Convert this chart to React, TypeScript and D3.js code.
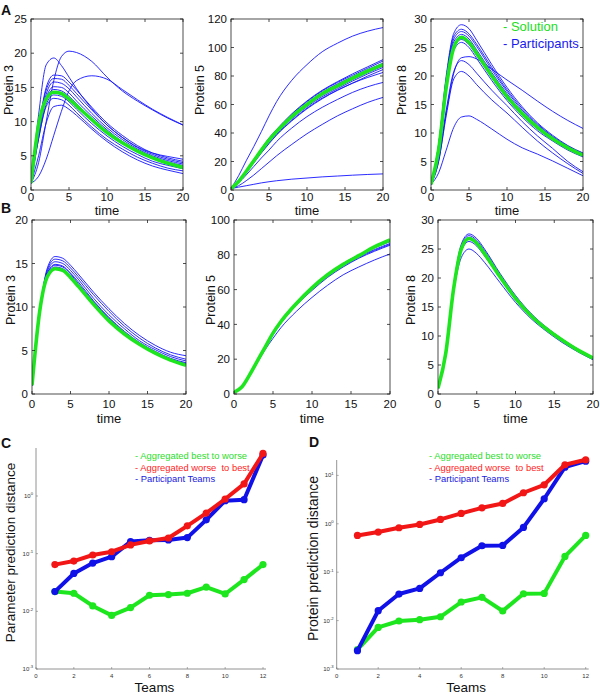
import React from "react";
import * as d3 from "d3";

// ---------- data ----------
const TIME = [0, 1, 2, 3, 4, 5, 6, 8, 10, 12, 14, 16, 18, 20];
const TIME_TICKS = [0, 5, 10, 15, 20];

// Panel A (participants' parameter-based simulations)
const A_P3_SOLUTION = [1, 9.5, 13.3, 14.3, 14.1, 13.3, 12.3, 10.3, 8.4, 6.9, 5.7, 4.7, 3.9, 3.3];
const A_P3_PARTICIPANTS = [
  [1, 11, 18.3, 19.3, 18.2, 16.5, 14.8, 11.9, 9.5, 7.7, 6.3, 5.4, 4.9, 4.5],
  [1, 4, 10, 16, 19.5, 20.3, 20.1, 18.8, 16.5, 14.5, 13.0, 11.7, 10.5, 9.5],
  [1, 2, 4.5, 8, 11.5, 14.5, 16, 16.7, 16.2, 14.7, 13.2, 11.8, 10.6, 9.5],
  [1, 9, 15, 16.8, 16.7, 15.8, 14.6, 12.1, 9.8, 8.0, 6.5, 5.4, 4.7, 4.2],
  [1, 9, 14.6, 16.3, 16.2, 15.3, 14.1, 11.7, 9.5, 7.7, 6.2, 5.2, 4.5, 4.0],
  [1, 8.5, 14, 15.8, 15.6, 14.8, 13.6, 11.2, 9.1, 7.4, 6.0, 5.0, 4.3, 3.8],
  [1, 8.5, 13.5, 15.1, 15.0, 14.2, 13.0, 10.8, 8.8, 7.1, 5.8, 4.8, 4.1, 3.6],
  [1, 8, 13.2, 14.7, 14.5, 13.7, 12.6, 10.4, 8.5, 6.9, 5.6, 4.6, 3.9, 3.4],
  [1, 7.5, 12.5, 13.9, 13.7, 12.9, 11.8, 9.7, 7.9, 6.4, 5.2, 4.2, 3.6, 3.1],
  [1, 7.5, 12.2, 13.4, 13.2, 12.4, 11.3, 9.2, 7.4, 6.0, 4.8, 3.9, 3.2, 2.8],
  [1, 5, 9.8, 12.2, 12.4, 11.8, 10.9, 8.9, 7.1, 5.6, 4.4, 3.5, 2.9, 2.4],
];

const A_P5_SOLUTION = [1, 6, 13, 20.5, 28, 35, 41, 51.5, 60, 67.5, 73, 78.5, 83.5, 88];
const A_P5_PARTICIPANTS = [
  [1, 10, 20.5, 30.5, 41, 52, 62, 77, 88, 97, 103, 108, 111.5, 114],
  [1, 6.5, 13.5, 21.5, 29, 36.5, 42.5, 53.5, 62.5, 70, 76, 81.5, 86.5, 91.5],
  [1, 6, 13.5, 21, 28.5, 36, 42, 53, 62, 69.5, 75.5, 80.5, 85.5, 90.5],
  [1, 6, 13, 20.5, 28, 35.5, 41.5, 52, 61, 68.5, 74.5, 79.5, 84.5, 89],
  [1, 6, 13, 20.5, 28, 35, 41, 51, 59.5, 66.5, 72, 77.5, 82.5, 87],
  [1, 5.5, 12.5, 20, 27, 34, 40, 50, 58.5, 65.5, 71, 76.5, 81.5, 86],
  [1, 5.5, 12.5, 19.5, 26.5, 33, 39, 49, 57.5, 64.5, 70, 75, 80, 84.5],
  [1, 5.5, 12, 19, 26, 32.5, 38.5, 48.5, 57, 64, 70, 75, 79, 82.5],
  [1, 5, 10.5, 16.5, 22.5, 28, 34, 43.5, 51.5, 58, 63.5, 68.5, 72.5, 75.5],
  [1, 3, 6.5, 10.5, 15, 19.5, 24, 32, 39.5, 46, 52, 57, 61.5, 65],
  [1, 2, 3, 4, 5, 5.8, 6.5, 7.6, 8.4, 9.2, 9.8, 10.4, 10.9, 11.3],
];

const A_P8_SOLUTION = [1, 7, 18, 25, 26.8, 25.9, 24, 20, 16.4, 13.4, 11, 9, 7.4, 6.1];
const A_P8_PARTICIPANTS = [
  [1, 8, 20, 27.5, 29, 28.3, 26.3, 22, 18, 14.6, 11.8, 9.6, 7.8, 6.5],
  [1, 8, 19.5, 27, 28.2, 27.4, 25.6, 21.5, 17.6, 14.3, 11.6, 9.4, 7.7, 6.4],
  [1, 7.5, 19, 26.5, 27.8, 27, 25.2, 21.1, 17.3, 14, 11.4, 9.3, 7.6, 6.3],
  [1, 7.5, 19, 26, 27.3, 26.5, 24.6, 20.6, 16.9, 13.7, 11.2, 9.1, 7.4, 6.2],
  [1, 7, 18.5, 25, 26.4, 25.5, 23.6, 19.7, 16.1, 13.1, 10.7, 8.8, 7.2, 5.9],
  [1, 7, 18, 24.5, 25.9, 25, 23.1, 19.2, 15.7, 12.8, 10.4, 8.6, 7.0, 5.8],
  [1, 5, 13.5, 20.5, 23.2, 23.4, 23, 21.2, 19.3, 17.5, 15.6, 13.8, 12.2, 10.8],
  [1, 5.5, 14, 20.8, 22.7, 22, 20.5, 17.5, 14.8, 12.0, 9.5, 7.3, 5.0, 3.2],
  [1, 5, 13, 19.5, 20.8, 20, 18.5, 15.8, 13.5, 11, 8.6, 6.5, 4.6, 2.9],
  [1, 3, 7, 11, 12.8, 13, 12.4, 10.7, 8.9, 7.4, 6.3, 5.1, 3.8, 2.5],
];

// Panel B (aggregated predictions)
const B_P3_SOLUTION = [1, 9.5, 13.5, 14.4, 14.2, 13.4, 12.4, 10.3, 8.4, 6.9, 5.7, 4.7, 3.9, 3.3];
const B_P3_PARTICIPANTS = [
  [1, 9.5, 14.5, 15.8, 15.6, 14.8, 13.8, 11.7, 9.8, 8.1, 6.7, 5.6, 4.8, 4.4],
  [1, 9.5, 14.3, 15.5, 15.3, 14.5, 13.5, 11.4, 9.5, 7.8, 6.4, 5.3, 4.5, 4.0],
  [1, 9.5, 14.1, 15.2, 15.0, 14.2, 13.2, 11.0, 9.1, 7.5, 6.1, 5.1, 4.3, 3.8],
  [1, 9.5, 13.9, 14.9, 14.7, 13.9, 12.9, 10.7, 8.8, 7.2, 5.9, 4.9, 4.1, 3.6],
  [1, 9.5, 13.8, 14.8, 14.6, 13.8, 12.7, 10.6, 8.7, 7.1, 5.8, 4.8, 4.0, 3.5],
  [1, 9.5, 13.7, 14.6, 14.4, 13.6, 12.6, 10.5, 8.6, 7.0, 5.8, 4.8, 4.0, 3.4],
  [1, 9.5, 13.6, 14.5, 14.3, 13.5, 12.5, 10.4, 8.5, 7.0, 5.7, 4.7, 3.9, 3.4],
];

const B_P5_SOLUTION = [1, 4, 11, 19, 27, 35, 41.5, 52, 61, 68.5, 74.5, 79.5, 84.5, 88.5];
const B_P5_PARTICIPANTS = [
  [1, 4, 11, 19, 27, 35, 42, 52.5, 61.5, 69, 75, 80, 84, 87.5],
  [1, 4, 11, 19, 27, 35, 41.5, 52, 61, 68, 74, 79, 83, 86.5],
  [1, 4, 11, 19, 27, 34.5, 41, 51.5, 60, 67.5, 73.5, 78.5, 82.5, 86],
  [1, 4, 11, 19, 26.5, 34, 40.5, 51, 59.5, 67, 73, 78, 82, 85.5],
  [1, 4, 10.5, 18, 25.5, 32, 38, 47.5, 55.5, 62.5, 68.5, 73, 77, 80.5],
];

const B_P8_SOLUTION = [1, 7, 18, 25, 26.8, 26, 24.2, 20.2, 16.5, 13.5, 11.2, 9.3, 7.6, 6.2];
const B_P8_PARTICIPANTS = [
  [1, 7, 18.5, 25.8, 27.6, 26.8, 25, 20.8, 17, 13.9, 11.5, 9.5, 7.8, 6.3],
  [1, 7, 18.3, 25.5, 27.3, 26.5, 24.7, 20.6, 16.8, 13.7, 11.3, 9.3, 7.6, 6.2],
  [1, 7, 18.2, 25.2, 27.0, 26.2, 24.4, 20.4, 16.6, 13.6, 11.2, 9.2, 7.5, 6.1],
  [1, 7, 18, 24.6, 26.3, 25.5, 23.8, 20, 16.3, 13.4, 11.1, 9.1, 7.4, 6.0],
  [1, 7, 17.5, 23.5, 25.0, 24.2, 22.7, 19.2, 15.8, 13.0, 10.8, 8.9, 7.3, 5.9],
];

// Panels C and D
const TEAMS = [1, 2, 3, 4, 5, 6, 7, 8, 9, 10, 11, 12];
const TEAM_TICKS = [0, 2, 4, 6, 8, 10, 12];

const C_BEST_TO_WORSE = [0.022, 0.0206, 0.0124, 0.0085, 0.0116, 0.019, 0.0195, 0.0206, 0.0263, 0.02, 0.0355, 0.0646];
const C_WORSE_TO_BEST = [0.0646, 0.0745, 0.0948, 0.108, 0.142, 0.166, 0.187, 0.304, 0.505, 0.887, 1.62, 5.47];
const C_TEAMS = [0.022, 0.0454, 0.0687, 0.0887, 0.162, 0.171, 0.173, 0.19, 0.386, 0.83, 0.863, 5.12];
const C_Y_TICKS = [-3, -2, -1, 0];

const D_BEST_TO_WORSE = [0.00251, 0.00724, 0.0098, 0.01045, 0.012, 0.0242, 0.0302, 0.0158, 0.0359, 0.0365, 0.212, 0.575];
const D_WORSE_TO_BEST = [0.575, 0.675, 0.828, 0.97, 1.23, 1.64, 2.14, 2.63, 4.38, 6.4, 16.6, 21.0];
const D_TEAMS = [0.00239, 0.016, 0.0354, 0.0463, 0.0975, 0.199, 0.352, 0.357, 0.841, 3.29, 14.8, 19.7];
const D_Y_TICKS = [-3, -2, -1, 0, 1];

const LEGEND_CD = ["- Aggregated best to worse", "- Aggregated worse  to best", "- Participant Teams"];

// ---------- styles ----------
const FONT = "'Liberation Sans', Arial, Helvetica, sans-serif";
const GREEN = "#1ee61e";
const BLUE = "#1414ff";
const RED = "#f21616";

type TP = {
  x0: number; x1: number; y0: number; y1: number;
  yMax: number; yStep: number;
  label: string; labelX: number; labelY: number;
  tickOff: number; timeOff: number;
  sol: number[]; parts: number[][];
  legend?: boolean;
};

function TimePanel(p: TP) {
  const x = d3.scaleLinear().domain([0, 20]).range([p.x0, p.x1]);
  const y = d3.scaleLinear().domain([0, p.yMax]).range([p.y1, p.y0]);
  const line = d3
    .line<number>()
    .x((_, i) => x(TIME[i]))
    .y((v) => y(v))
    .curve(d3.curveMonotoneX);
  const yTicks = d3.range(0, p.yMax + 0.001, p.yStep);
  const tl = 3;
  return (
    <g>
      <clipPath id={`clip-${p.x0}-${p.y0}`}>
        <rect x={p.x0} y={p.y0} width={p.x1 - p.x0} height={p.y1 - p.y0} />
      </clipPath>
      <g clipPath={`url(#clip-${p.x0}-${p.y0})`}>
        {p.parts.map((c, i) => (
          <path key={i} d={line(c) || ""} fill="none" stroke={BLUE} strokeWidth={0.9} />
        ))}
        <path d={line(p.sol) || ""} fill="none" stroke={GREEN} strokeWidth={3.6} strokeLinejoin="round" />
      </g>
      <rect x={p.x0} y={p.y0} width={p.x1 - p.x0} height={p.y1 - p.y0} fill="none" stroke="#222" strokeWidth={0.8} />
      {TIME_TICKS.map((t) => (
        <g key={"xt" + t}>
          <line x1={x(t)} x2={x(t)} y1={p.y1} y2={p.y1 - tl} stroke="#222" strokeWidth={0.8} />
          <line x1={x(t)} x2={x(t)} y1={p.y0} y2={p.y0 + tl} stroke="#222" strokeWidth={0.8} />
          <text x={x(t)} y={p.y1 + p.tickOff} textAnchor="middle" fontSize={11.5} fontFamily={FONT} fill="#111">
            {t}
          </text>
        </g>
      ))}
      {yTicks.map((v) => (
        <g key={"yt" + v}>
          <line x1={p.x0} x2={p.x0 + tl} y1={y(v)} y2={y(v)} stroke="#222" strokeWidth={0.8} />
          <line x1={p.x1} x2={p.x1 - tl} y1={y(v)} y2={y(v)} stroke="#222" strokeWidth={0.8} />
          <text x={p.x0 - 4} y={y(v) + 4.2} textAnchor="end" fontSize={11.5} fontFamily={FONT} fill="#111">
            {v}
          </text>
        </g>
      ))}
      <text x={(p.x0 + p.x1) / 2} y={p.y1 + p.timeOff} textAnchor="middle" fontSize={13} fontFamily={FONT} fill="#111">
        time
      </text>
      <text
        transform={`translate(${p.labelX},${p.labelY}) rotate(-90)`}
        textAnchor="middle"
        fontSize={12.5}
        fontFamily={FONT}
        fill="#111"
      >
        {p.label}
      </text>
      {p.legend && (
        <g fontFamily={FONT} fontSize={13}>
          <text x={p.x0 + 72} y={p.y0 + 12} fill="#22dd22">- Solution</text>
          <text x={p.x0 + 72} y={p.y0 + 29} fill="#1a1aee">- Participants</text>
        </g>
      )}
    </g>
  );
}

type DP = {
  x0: number; x1: number; yBottom: number; yTop: number; yDecadeTop: number; topExp: number;
  exps: number[];
  green: number[]; red: number[]; blue: number[];
  ylabel: string; ylabelX: number; ylabelSize: number;
  legendX: number;
};

function DistPanel(p: DP) {
  const x = d3.scaleLinear().domain([0, 12]).range([p.x0, p.x1]);
  const y = d3.scaleLog().domain([1e-3, Math.pow(10, p.topExp)]).range([p.yBottom, p.yDecadeTop]);
  const line = d3
    .line<number>()
    .x((_, i) => x(TEAMS[i]))
    .y((v) => y(v));
  const series: [number[], string][] = [
    [p.green, GREEN],
    [p.blue, "#1010e8"],
    [p.red, RED],
  ];
  return (
    <g>
      <line x1={p.x0} x2={p.x1 + 3} y1={p.yBottom} y2={p.yBottom} stroke="#777" strokeWidth={0.8} />
      <line x1={p.x0} x2={p.x0} y1={p.yBottom} y2={p.yTop} stroke="#777" strokeWidth={0.8} />
      {TEAM_TICKS.map((t) => (
        <g key={"tx" + t}>
          <line x1={x(t)} x2={x(t)} y1={p.yBottom} y2={p.yBottom - 2} stroke="#777" strokeWidth={0.6} />
          <text x={x(t)} y={p.yBottom + 9} textAnchor="middle" fontSize={6} fontFamily={FONT} fill="#333">
            {t}
          </text>
        </g>
      ))}
      {p.exps.map((e) => (
        <g key={"ty" + e}>
          <line x1={p.x0} x2={p.x0 + 2} y1={y(Math.pow(10, e))} y2={y(Math.pow(10, e))} stroke="#777" strokeWidth={0.6} />
          <text x={p.x0 - 3} y={y(Math.pow(10, e)) + 2} textAnchor="end" fontSize={6} fontFamily={FONT} fill="#333">
            10
            <tspan fontSize={4.2} dy={-2.6}>{e}</tspan>
          </text>
        </g>
      ))}
      {series.map(([vals, col], i) => (
        <g key={"s" + i}>
          <path d={line(vals) || ""} fill="none" stroke={col} strokeWidth={4} strokeLinejoin="round" />
          {vals.map((v, j) => (
            <circle key={j} cx={x(TEAMS[j])} cy={y(v)} r={3.6} fill={col} />
          ))}
        </g>
      ))}
      <g fontFamily={FONT} fontSize={9.4}>
        <text x={p.legendX} y={459} fill="#2bdd2b">{LEGEND_CD[0]}</text>
        <text x={p.legendX} y={471} fill="#ff1c1c" style={{ whiteSpace: "pre" }}>{LEGEND_CD[1]}</text>
        <text x={p.legendX} y={482} fill="#2020e0">{LEGEND_CD[2]}</text>
      </g>
      <text
        transform={`translate(${p.ylabelX},${(p.yBottom + p.yTop) / 2 - 6}) rotate(-90)`}
        textAnchor="middle"
        fontSize={p.ylabelSize}
        fontFamily={FONT}
        fill="#111"
      >
        {p.ylabel}
      </text>
      <text x={(p.x0 + p.x1) / 2 + 5} y={692} textAnchor="middle" fontSize={13.5} fontFamily={FONT} fill="#111">
        Teams
      </text>
    </g>
  );
}

export default function App() {
  return (
    <svg
      width={600}
      height={696}
      viewBox="0 0 600 696"
      style={{ position: "absolute", left: 0, top: 0, background: "#fff" }}
    >
      <rect width={600} height={696} fill="#fff" />
      {/* Row A */}
      <TimePanel x0={31} x1={183} y0={19} y1={190} yMax={25} yStep={5} label="Protein 3" labelX={13} labelY={90}
        tickOff={11} timeOff={25} sol={A_P3_SOLUTION} parts={A_P3_PARTICIPANTS} />
      <TimePanel x0={231} x1={383} y0={19} y1={190} yMax={120} yStep={20} label="Protein 5" labelX={204} labelY={90}
        tickOff={11} timeOff={25} sol={A_P5_SOLUTION} parts={A_P5_PARTICIPANTS} />
      <TimePanel x0={431} x1={583} y0={19} y1={190} yMax={30} yStep={5} label="Protein 8" labelX={406} labelY={90}
        tickOff={11} timeOff={25} sol={A_P8_SOLUTION} parts={A_P8_PARTICIPANTS} legend />
      {/* Row B */}
      <TimePanel x0={32} x1={186} y0={220} y1={394} yMax={20} yStep={5} label="Protein 3" labelX={15} labelY={300}
        tickOff={14} timeOff={29} sol={B_P3_SOLUTION} parts={B_P3_PARTICIPANTS} />
      <TimePanel x0={234} x1={390} y0={220} y1={394} yMax={100} yStep={20} label="Protein 5" labelX={215} labelY={300}
        tickOff={14} timeOff={29} sol={B_P5_SOLUTION} parts={B_P5_PARTICIPANTS} />
      <TimePanel x0={438} x1={593} y0={220} y1={394} yMax={30} yStep={5} label="Protein 8" labelX={415} labelY={300}
        tickOff={14} timeOff={29} sol={B_P8_SOLUTION} parts={B_P8_PARTICIPANTS} />
      {/* Row C / D */}
      <DistPanel x0={36} x1={263} yBottom={669} yTop={448} yDecadeTop={496} topExp={0} exps={C_Y_TICKS}
        green={C_BEST_TO_WORSE} red={C_WORSE_TO_BEST} blue={C_TEAMS}
        ylabel="Parameter prediction distance" ylabelX={15} ylabelSize={13.5} legendX={135} />
      <DistPanel x0={336.7} x1={585.7} yBottom={669} yTop={460} yDecadeTop={475.4} topExp={1} exps={D_Y_TICKS}
        green={D_BEST_TO_WORSE} red={D_WORSE_TO_BEST} blue={D_TEAMS}
        ylabel="Protein prediction distance" ylabelX={318} ylabelSize={14} legendX={429} />
      {/* panel letters */}
      <g fontFamily={FONT} fontWeight="bold" fontSize={14} fill="#111">
        <text x={1} y={15}>A</text>
        <text x={1} y={213}>B</text>
        <text x={1} y={448}>C</text>
        <text x={309} y={447}>D</text>
      </g>
    </svg>
  );
}
